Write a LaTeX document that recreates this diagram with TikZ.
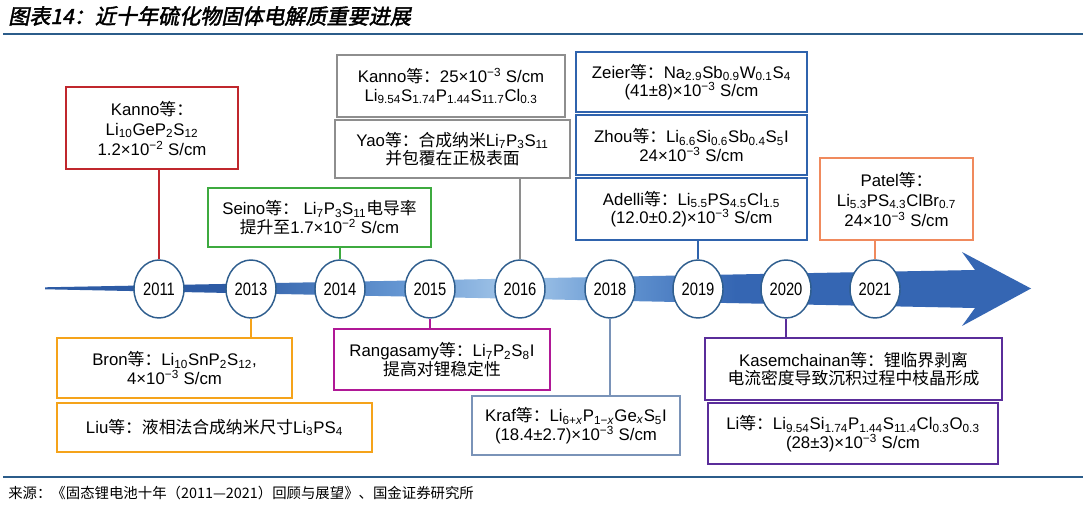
\documentclass[tikz,border=0pt]{standalone}
\usepackage{fontspec}
\setmainfont{Liberation Sans}
\newfontfamily\cjk{Noto Sans CJK SC}
\newfontfamily\yearfont[FakeStretch=0.82]{Liberation Sans}
\newfontfamily\titlefont[FakeSlant=0.2,FakeBold=2]{Noto Sans CJK SC}
\usetikzlibrary{shapes.geometric}
\definecolor{cred}{RGB}{192,39,45}
\definecolor{cgreen}{RGB}{61,170,63}
\definecolor{cgray}{RGB}{142,142,142}
\definecolor{cblue}{RGB}{47,99,173}
\definecolor{csalmon}{RGB}{240,138,93}
\definecolor{corange}{RGB}{245,163,26}
\definecolor{cmagenta}{RGB}{176,24,150}
\definecolor{cslate}{RGB}{122,147,184}
\definecolor{cpurple}{RGB}{90,45,154}
\definecolor{cring}{RGB}{47,94,142}
\definecolor{crule}{RGB}{43,92,138}
\definecolor{adark}{RGB}{45,91,165}
\definecolor{amid}{RGB}{100,150,210}
\definecolor{alight}{RGB}{167,201,234}
\definecolor{aright}{RGB}{53,102,179}
\pgfdeclarehorizontalshading{arrowshade}{100bp}{color(0bp)=(adark); color(34bp)=(adark); color(43bp)=(amid); color(49bp)=(alight); color(54bp)=(amid); color(60bp)=(aright); color(100bp)=(aright)}
\newcommand\zh[1]{{\cjk #1}}
\newcommand\deng{\zh{等：}}
\newcommand\sbs[1]{\textsubscript{#1}}
\newcommand\sps[1]{\textsuperscript{#1}}
\begin{document}
\begin{tikzpicture}[x=0.75pt,y=-0.75pt,
  box/.style={draw=#1, line width=1.7pt, fill=white, align=center, inner sep=0pt, font=\fontsize{12.6pt}{14pt}\selectfont},
  conn/.style={draw=#1, line width=1.7pt},
  yr/.style={ellipse, draw=cring, line width=1.1pt, fill=white, minimum width=37.5pt, minimum height=43.5pt, inner sep=0pt, font=\yearfont\fontsize{13.5pt}{14pt}\selectfont},
  rule/.style={draw=crule, line width=1.5pt}]
\useasboundingbox[fill=white] (0,0) rectangle (1086,509);

% title and footer
\node[anchor=west, inner sep=0pt, font=\titlefont\fontsize{15.8pt}{16pt}\selectfont] (title) at (8,16) {图表14：近十年硫化物固体电解质重要进展};
\coordinate (tl) at (3,34);
\coordinate (tr) at (1083,34);
\draw[rule] (tl) -- (tr);
\coordinate (fl) at (3,477);
\coordinate (fr) at (1083,477);
\draw[rule, line width=1.2pt] (fl) -- (fr);
\node[anchor=west, inner sep=0pt, font=\cjk\fontsize{10.8pt}{12pt}\selectfont] (foot) at (8,493) {来源：《固态锂电池十年（2011—2021）回顾与展望》、国金证券研究所};

% arrow
\shade[shading=arrowshade] (45,287.3) -- (975,270) -- (962,252) -- (1031,288.5) -- (962,326) -- (975,308) -- (45,289.3) -- cycle;

% year circles
\node[yr] (y11) at (159,289) {2011};
\node[yr] (y13) at (251,289) {2013};
\node[yr] (y14) at (340,289) {2014};
\node[yr] (y15) at (430,289) {2015};
\node[yr] (y16) at (520,289) {2016};
\node[yr] (y18) at (610,289) {2018};
\node[yr] (y19) at (698,289) {2019};
\node[yr] (y20) at (786,289) {2020};
\node[yr] (y21) at (875,289) {2021};

% upper boxes
\node[box=cred, minimum width=172*0.75pt, minimum height=82*0.75pt] (k11) at (152,128)
  {Kanno\deng\\[1pt] Li\sbs{10}GeP\sbs{2}S\sbs{12}\\[1pt] 1.2×10\sps{−2} S/cm};
\node[box=cgreen, minimum width=223*0.75pt, minimum height=59*0.75pt] (seino) at (319.5,217.5)
  {Seino\deng\ Li\sbs{7}P\sbs{3}S\sbs{11}\zh{电导率}\\ \zh{提升至}1.7×10\sps{−2} S/cm};
\node[box=cgray, minimum width=228*0.75pt, minimum height=62*0.75pt] (k16) at (451,86)
  {Kanno\deng 25×10\sps{−3} S/cm\\ Li\sbs{9.54}S\sbs{1.74}P\sbs{1.44}S\sbs{11.7}Cl\sbs{0.3}};
\node[box=cgray, minimum width=235*0.75pt, minimum height=58*0.75pt] (yao) at (452.5,149)
  {Yao\deng\zh{合成纳米}Li\sbs{7}P\sbs{3}S\sbs{11}\\ \zh{并包覆在正极表面}};
\node[box=cblue, minimum width=231*0.75pt, minimum height=60*0.75pt] (zeier) at (691.5,82)
  {Zeier\deng Na\sbs{2.9}Sb\sbs{0.9}W\sbs{0.1}S\sbs{4}\\ (41±8)×10\sps{−3} S/cm};
\node[box=cblue, minimum width=231*0.75pt, minimum height=60*0.75pt] (zhou) at (691.5,145)
  {Zhou\deng Li\sbs{6.6}Si\sbs{0.6}Sb\sbs{0.4}S\sbs{5}I\\ 24×10\sps{−3} S/cm};
\node[box=cblue, minimum width=231*0.75pt, minimum height=62*0.75pt] (adelli) at (691.5,209)
  {Adelli\deng Li\sbs{5.5}PS\sbs{4.5}Cl\sbs{1.5}\\ (12.0±0.2)×10\sps{−3} S/cm};
\node[box=csalmon, minimum width=153*0.75pt, minimum height=82*0.75pt] (patel) at (896.5,199)
  {Patel\deng\\[1pt] Li\sbs{5.3}PS\sbs{4.3}ClBr\sbs{0.7}\\[1pt] 24×10\sps{−3} S/cm};

% lower boxes
\node[box=corange, minimum width=235*0.75pt, minimum height=60*0.75pt] (bron) at (174.5,368)
  {Bron\deng Li\sbs{10}SnP\sbs{2}S\sbs{12},\\ 4×10\sps{−3} S/cm};
\node[box=corange, minimum width=315*0.75pt, minimum height=49*0.75pt] (liu) at (214.5,427.5)
  {Liu\deng\zh{液相法合成纳米尺寸}Li\sbs{3}PS\sbs{4}};
\node[box=cmagenta, minimum width=216*0.75pt, minimum height=61*0.75pt] (ranga) at (442,359.5)
  {Rangasamy\deng Li\sbs{7}P\sbs{2}S\sbs{8}I\\ \zh{提高对锂稳定性}};
\node[box=cslate, minimum width=208*0.75pt, minimum height=59*0.75pt] (kraf) at (576,425.5)
  {Kraf\deng Li\sbs{6+\textit{x}}P\sbs{1−\textit{x}}Ge\sbs{\textit{x}}S\sbs{5}I\\ (18.4±2.7)×10\sps{−3} S/cm};
\node[box=cpurple, minimum width=297*0.75pt, minimum height=62*0.75pt] (kasem) at (853.5,369)
  {Kasemchainan\deng\zh{锂临界剥离}\\ \zh{电流密度导致沉积过程中枝晶形成}};
\node[box=cpurple, minimum width=290*0.75pt, minimum height=61*0.75pt] (li) at (853,433.5)
  {Li\deng Li\sbs{9.54}Si\sbs{1.74}P\sbs{1.44}S\sbs{11.4}Cl\sbs{0.3}O\sbs{0.3}\\ (28±3)×10\sps{−3} S/cm};

% connectors
\draw[conn=cred] (y11.north) -- (y11.north |- k11.south);
\draw[conn=cgreen] (y14.north) -- (y14.north |- seino.south);
\draw[conn=cgray] (y16.north) -- (y16.north |- yao.south);
\draw[conn=cblue] (y19.north) -- (y19.north |- adelli.south);
\draw[conn=csalmon] (y21.north) -- (y21.north |- patel.south);
\draw[conn=corange] (y13.south) -- (y13.south |- bron.north);
\draw[conn=cmagenta] (y15.south) -- (y15.south |- ranga.north);
\draw[conn=cslate] (y18.south) -- (y18.south |- kraf.north);
\draw[conn=cpurple] (y20.south) -- (y20.south |- kasem.north);
\end{tikzpicture}
\end{document}
